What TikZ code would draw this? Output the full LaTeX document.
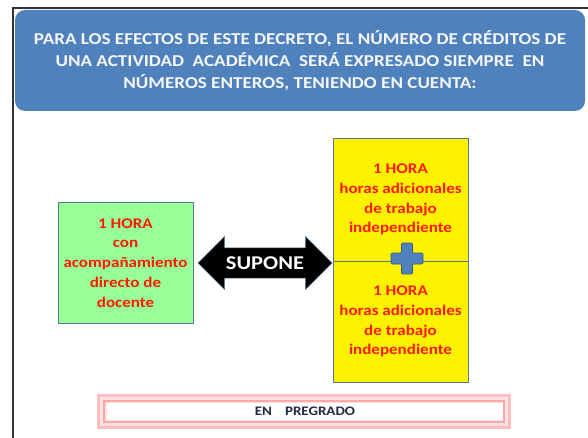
\documentclass[tikz,border=0pt]{standalone}
\usepackage{fontspec}
\setmainfont{Carlito}[FakeStretch=1.15]
\usetikzlibrary{shapes.arrows}

\definecolor{titleblue}{HTML}{4F81BD}
\definecolor{edgeblue}{HTML}{5A7896}
\definecolor{boxgreen}{HTML}{99FF99}
\definecolor{hourred}{HTML}{FF1A00}
\definecolor{navytext}{HTML}{1F2A44}

\begin{document}
\begin{tikzpicture}[x=1pt,y=-1pt,
    hourbox/.style={draw=edgeblue,line width=0.8pt,minimum width=135pt,align=center,
      text=hourred,font=\fontsize{14.8}{19.8}\selectfont\bfseries},
    ]
           \useasboundingbox (0,0) rectangle (588,438);
           % frame
           \draw[draw=black!80,line width=1.3pt] (588,8) -- (13,8) -- (13,438);
           \node[fill=titleblue,rounded corners=10pt,minimum width=570pt,minimum height=101pt,
                 align=center,text=white!94!titleblue,font=\fontsize{16.6}{22}\selectfont\bfseries] (title) at (300,60.5)
                {PARA LOS EFECTOS DE ESTE DECRETO, EL NÚMERO DE CRÉDITOS DE\\
                 UNA ACTIVIDAD\ \ ACADÉMICA\ \ SERÁ EXPRESADO SIEMPRE\ \ EN\\
                 NÚMEROS ENTEROS, TENIENDO EN CUENTA:};
           % boxes
           \node[hourbox,fill=boxgreen,minimum height=121pt] (direct) at (125.5,263)
                {1 HORA\\con\\acompañamiento\\directo de\\docente};
           \node[hourbox,fill=yellow,minimum height=123pt] (extra) at (400.5,199.5)
                {1 HORA\\horas adicionales\\de trabajo\\independiente};
           \node[hourbox,fill=yellow,minimum height=121pt] (extrb) at (400.5,321.5)
                {1 HORA\\horas adicionales\\de trabajo\\independiente};
           \node[double arrow,fill=black,draw=edgeblue,line width=0.6pt,minimum height=134pt,
                 minimum width=53pt,double arrow head extend=9.5pt,inner xsep=1.5pt,inner ysep=6pt,
                 text=white,font=\fontsize{19.5}{19.5}\selectfont\bfseries] (supone) at (265,263) {SUPONE};
           \draw[draw=titleblue!70!black,fill=titleblue,line width=0.6pt,rounded corners=1pt]
                (401.5,243) -- (412.5,243) -- (412.5,253) -- (423,253) -- (423,264)
                -- (412.5,264) -- (412.5,274) -- (401.5,274) -- (401.5,264) -- (391,264)
                -- (391,253) -- (401.5,253) -- cycle;
           % bottom label
           \fill[red!25] (97,394) rectangle (511,429);
           \fill[red!12] (100,397) rectangle (508,426);
           \draw[draw=red!35,line width=1.5pt] (104,401) rectangle (504,422);
           \node[fill=white,minimum width=396pt,minimum height=17pt,inner sep=0pt,text=navytext,
                 font=\fontsize{13}{13}\selectfont\bfseries] (grado) at (305,411.5) {EN\quad PREGRADO};
        \end{tikzpicture}
\end{document}
